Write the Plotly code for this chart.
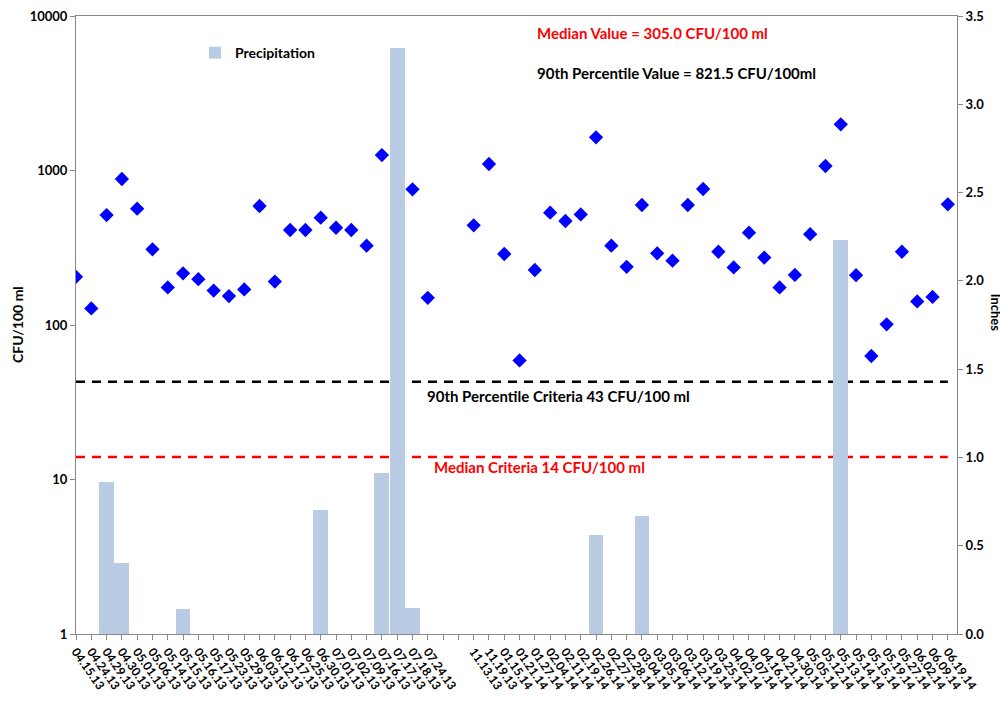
import plotly.graph_objects as go

dates = ["04.15.13", "04.24.13", "04.29.13", "04.30.13", "05.01.13", "05.06.13", "05.14.13",
         "05.15.13", "05.16.13", "05.17.13", "05.23.13", "05.29.13", "06.03.13", "06.12.13",
         "06.17.13", "06.25.13", "06.30.13", "07.01.13", "07.02.13", "07.09.13", "07.16.13",
         "07.17.13", "07.18.13", "07.24.13", "", "",
         "11.13.13", "11.19.13", "01.15.14", "01.21.14", "01.27.14", "02.04.14", "02.11.14",
         "02.19.14", "02.26.14", "02.27.14", "02.28.14", "03.04.14", "03.05.14", "03.06.14",
         "03.12.14", "03.19.14", "03.25.14", "04.02.14", "04.07.14", "04.16.14", "04.21.14",
         "04.30.14", "05.05.14", "05.12.14", "05.13.14", "05.14.14", "05.15.14", "05.19.14",
         "05.27.14", "06.02.14", "06.09.14", "06.19.14"]

cfu = [205, 128, 515, 881, 566, 309, 175, 216, 198, 167, 154, 170, 589, 191,
       412, 412, 495, 426, 412, 326, 1259, 2, 755, 150, None, None,
       442, 1102, 288, 59, 227, 533, 471, 520, 1640, 326, 238, 598, 291, 261,
       598, 759, 298, 236, 396, 273, 175, 211, 387, 1069, 1990, 210, 63, 101,
       298, 142, 152, 604]

precip = [0, 0, 0.86, 0.40, 0, 0, 0, 0.14, 0, 0, 0, 0, 0, 0,
          0, 0, 0.70, 0, 0, 0, 0.91, 3.32, 0.15, 0, 0, 0,
          0, 0, 0, 0, 0, 0, 0, 0, 0.56, 0, 0, 0.67, 0, 0,
          0, 0, 0, 0, 0, 0, 0, 0, 0, 0, 2.23, 0, 0, 0,
          0, 0, 0, 0]

median_criteria = 14
p90_criteria = 43
median_value = 305.0
p90_value = 821.5

idx = list(range(len(dates)))
FONT = "Lato"

fig = go.Figure()

fig.add_trace(go.Bar(
    x=idx, y=precip, yaxis="y2", name="Precipitation",
    marker=dict(color="#b9cce4", line=dict(width=0)), width=0.97,
    showlegend=True,
))

fig.add_trace(go.Scatter(
    x=idx, y=[p90_criteria] * len(idx), mode="lines",
    line=dict(color="black", width=2.5, dash="9px,7px"), showlegend=False,
))
fig.add_trace(go.Scatter(
    x=idx, y=[median_criteria] * len(idx), mode="lines",
    line=dict(color="#ff0000", width=2.5, dash="9px,7px"), showlegend=False,
))

fig.add_trace(go.Scatter(
    x=idx, y=cfu, mode="markers",
    marker=dict(symbol="diamond", color="#0000ff", size=11, line=dict(width=0)),
    showlegend=False,
))

# the page body adds an 8px offset, so the figure is drawn 8px smaller
fig.update_layout(
    width=1000, height=699,
    margin=dict(l=68, r=51, t=8, b=73, autoexpand=False),
    plot_bgcolor="white", paper_bgcolor="white",
    font=dict(family=FONT, size=12, color="black"),
    bargap=0,
    xaxis=dict(
        range=[0, 57.6], tickmode="array", tickvals=idx, ticktext=dates,
        tickangle=55, tickfont=dict(family=FONT, size=12, color="black", weight="bold"),
        showgrid=False, zeroline=False, showline=True, linecolor="#888888", linewidth=1,
        ticks="outside", ticklen=5, tickcolor="#888888", mirror=True,
        ticklabeloverflow="allow",
    ),
    yaxis=dict(
        type="log", range=[0, 4], tickvals=[1, 10, 100, 1000, 10000],
        ticktext=["1", "10", "100", "1000", "10000"],
        tickfont=dict(family=FONT, size=13, color="black", weight="bold"),
        showgrid=False, zeroline=False, showline=True, linecolor="#888888", linewidth=1,
        ticks="outside", ticklen=5, tickcolor="#888888", ticklabeloverflow="allow",
    ),
    yaxis2=dict(
        overlaying="y", side="right", range=[0, 3.5], tickmode="array",
        tickvals=[0, 0.5, 1, 1.5, 2, 2.5, 3, 3.5], tickformat=".1f",
        tickfont=dict(family=FONT, size=13, color="black", weight="bold"),
        showgrid=False, zeroline=False, showline=True, linecolor="#888888", linewidth=1,
        ticks="outside", ticklen=5, tickcolor="#888888", ticklabeloverflow="allow",
    ),
    legend=dict(
        x=0.135, y=0.94, xanchor="left", yanchor="middle", bgcolor="rgba(0,0,0,0)",
        font=dict(family=FONT, size=14, color="black", weight="bold"),
        itemwidth=30,
    ),
)

ann = [
    dict(text="Median Value = %.1f CFU/100 ml" % median_value, x=0.521, y=0.972,
         color="#ff0000"),
    dict(text="90th Percentile Value = %.1f CFU/100ml" % p90_value, x=0.521, y=0.908,
         color="black"),
    dict(text="90th Percentile Criteria %d CFU/100 ml" % p90_criteria, x=0.396, y=0.385,
         color="black"),
    dict(text="Median Criteria %d CFU/100 ml" % median_criteria, x=0.404, y=0.27,
         color="#ff0000"),
]
for a in ann:
    fig.add_annotation(
        text=a["text"], x=a["x"], y=a["y"], xref="paper", yref="paper",
        xanchor="left", yanchor="middle", showarrow=False,
        font=dict(family=FONT, size=15, color=a["color"], weight="bold"),
    )

fig.add_annotation(text="CFU/100 ml", x=0, y=0.5, xref="paper", yref="paper",
                   showarrow=False, textangle=-90, xanchor="center", yanchor="middle",
                   xshift=-59, font=dict(family=FONT, size=14, weight="bold"))
fig.add_annotation(text="Inches", x=1, y=0.52, xref="paper", yref="paper",
                   showarrow=False, textangle=90, xanchor="center", yanchor="middle",
                   xshift=39, font=dict(family=FONT, size=13, weight="bold"))

fig.write_html("out.html")
